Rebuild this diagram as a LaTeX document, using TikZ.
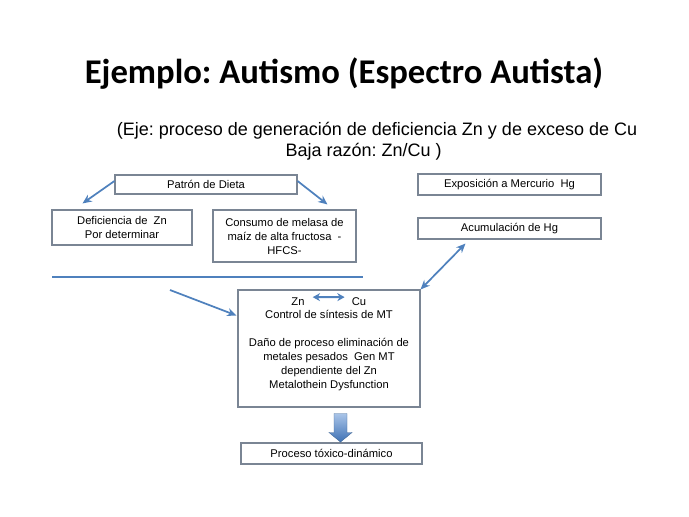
\documentclass[tikz,border=0pt]{standalone}
\usepackage{fontspec}
\setmainfont{Liberation Sans}
\newfontfamily\titlefont{Carlito}
\usetikzlibrary{positioning,arrows.meta,calc}
\definecolor{cLine}{HTML}{4F81BD}
\definecolor{cFrame}{HTML}{7A8594}
\definecolor{cShadeTop}{HTML}{A9C4E8}
\definecolor{cShadeBot}{HTML}{3F72B5}
\frenchspacing

\begin{document}
\begin{tikzpicture}[x=0.75pt,y=-0.75pt,
    box/.style={draw=cFrame,line width=0.8pt,inner sep=2pt,align=center,
      font=\fontsize{8.4}{10.5}\selectfont},
    lnk/.style={draw=cLine,line width=1.3pt,-{Stealth[length=7pt,width=6pt]}},
    dlnk/.style={lnk,{Stealth[length=7pt,width=6pt]}-{Stealth[length=7pt,width=6pt]}}]
  \useasboundingbox (0,0) rectangle (689,517);

  % titulo
  \node[font=\titlefont\bfseries\fontsize{26}{30}\selectfont] (titulo) at (344,74)
    {Ejemplo: Autismo (Espectro Autista)};
  \node[align=center,font=\fontsize{13.5}{15.5}\selectfont] (eje) at (377,141)
    {(Eje: proceso de generación de deficiencia Zn y de exceso de Cu\\
     Baja razón: Zn/Cu )\hspace*{20pt}};

  % cajas
  \node[box,minimum width=182*0.75pt,minimum height=19*0.75pt] (dieta) at (206,184.5) {Patrón de Dieta};
  \node[box,minimum width=140*0.75pt,minimum height=35*0.75pt] (defzn) at (122,227.5)
    {Deficiencia de \ Zn\\Por determinar};
  \node[box,minimum width=143*0.75pt,minimum height=52*0.75pt] (hfcs) at (284.5,236)
    {Consumo de melasa de\\maíz de alta fructosa \ -\\HFCS-};
  \node[box,minimum width=183*0.75pt,minimum height=21*0.75pt] (merc) at (509.5,184.5)
    {Exposición a Mercurio \ Hg};
  \node[box,minimum width=183*0.75pt,minimum height=21*0.75pt] (acum) at (509.5,228.5)
    {Acumulación de Hg};
  \node[box,minimum width=182*0.75pt,minimum height=117*0.75pt] (mt) at (329,348.5) {};
  \node[box,draw=none,anchor=base] (zn) at (298,305) {Zn};
  \node[box,draw=none,anchor=base] (cu) at (359,305) {Cu};
  \node[box,draw=none,anchor=north] (mttxt) at (329,307)
    {Control de síntesis de MT\\[10.5pt]
     Daño de proceso eliminación de\\metales pesados \ Gen MT\\
     dependiente del Zn\\Metalothein Dysfunction};
  \node[box,minimum width=181*0.75pt,minimum height=21*0.75pt] (toxico) at (331.5,453.5)
    {Proceso tóxico-dinámico};

  % separador
  \coordinate (sepL) at (52,277);
  \coordinate (sepR) at (363,277);
  \draw[cLine,line width=1.6pt] (sepL) -- (sepR);

  % flechas
  \draw[lnk] ($(dieta.west)+(0,-3.5)$) -- ($(defzn.north west)+(31,-6)$);
  \draw[lnk] ($(dieta.east)+(0,-3.5)$) -- ($(hfcs.north)+(43,-5)$);
  \coordinate (entra) at (170,290);
  \draw[lnk] (entra) -- ($(mt.west)+(-1,-33)$);
  \draw[dlnk] (mt.north east) -- ($(acum.south)+(-44,4)$);
  \draw[dlnk,line width=1.5pt,{Stealth[length=5.5pt,width=6pt]}-{Stealth[length=5.5pt,width=6pt]}]
    ($(zn.east)+(5,-4)$) -- ($(cu.west)+(-4,-4)$);

  % flecha gruesa
  \shade[top color=cShadeTop,bottom color=cShadeBot,draw=cLine!80!black,line width=0.3pt]
    ($(mt.south)+(5,6)$) -- ++(13,0) -- ++(0,19) -- ++(5,0) -- ++(-11.5,9.5)
    -- ++(-11.5,-9.5) -- ++(5,0) -- cycle;
\end{tikzpicture}
\end{document}
